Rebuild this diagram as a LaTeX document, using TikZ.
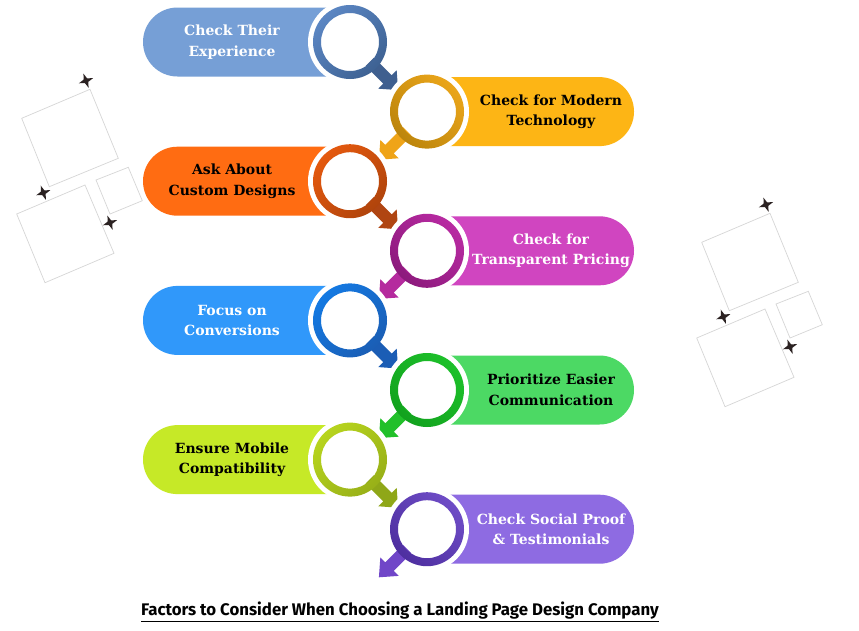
\documentclass[tikz,border=0pt]{standalone}
\usepackage{fontspec}
\usetikzlibrary{shapes.misc}
\newfontfamily\pillfont{DejaVu Serif}
\newfontfamily\titlefont{Fira Sans}

\definecolor{p1}{HTML}{769FD6}\definecolor{r1a}{HTML}{5B86C3}\definecolor{r1b}{HTML}{3E6293}\definecolor{a1}{HTML}{3F5F8F}
\definecolor{p2}{HTML}{FDB515}\definecolor{r2a}{HTML}{EAA51A}\definecolor{r2b}{HTML}{BC850C}\definecolor{a2}{HTML}{EFA418}
\definecolor{p3}{HTML}{FF6C12}\definecolor{r3a}{HTML}{E4590E}\definecolor{r3b}{HTML}{B0440C}\definecolor{a3}{HTML}{B04512}
\definecolor{p4}{HTML}{D045C0}\definecolor{r4a}{HTML}{B82AA2}\definecolor{r4b}{HTML}{8C1A7C}\definecolor{a4}{HTML}{B52A9E}
\definecolor{p5}{HTML}{3098FA}\definecolor{r5a}{HTML}{1479E2}\definecolor{r5b}{HTML}{1A5EB5}\definecolor{a5}{HTML}{1B5DB5}
\definecolor{p6}{HTML}{4CD964}\definecolor{r6a}{HTML}{1DC02A}\definecolor{r6b}{HTML}{12A21E}\definecolor{a6}{HTML}{22C02A}
\definecolor{p7}{HTML}{C6E927}\definecolor{r7a}{HTML}{B7D41E}\definecolor{r7b}{HTML}{98B018}\definecolor{a7}{HTML}{8FA718}
\definecolor{p8}{HTML}{8E6BE2}\definecolor{r8a}{HTML}{6E4CC6}\definecolor{r8b}{HTML}{4E2FA0}\definecolor{a8}{HTML}{7046C8}
\definecolor{starcol}{HTML}{2B2222}
\definecolor{sqcol}{HTML}{D6D6D6}

\tikzset{
  pillbase/.style={rounded rectangle, minimum height=69, minimum width=207, inner sep=0, draw=none},
  pillL/.style={pillbase, rounded rectangle right arc=none},
  pillR/.style={pillbase, rounded rectangle left arc=none},
  pilltext/.style={font=\pillfont\bfseries\fontsize{14}{20.5}\selectfont, align=center, inner sep=0},
  sqline/.style={draw=sqcol, line width=0.7pt},
  sparkle/.pic={\fill[starcol] (0:7.5) -- (45:2.6) -- (90:7.5) -- (135:2.6) -- (180:7.5) -- (225:2.6) -- (270:7.5) -- (315:2.6) -- cycle;}
}

% #1 id, #2 y, #3 pill, #4 ring light, #5 ring dark, #6 arrow, #7 text colour, #8 text
\newcommand{\leftfactor}[8]{%
  \node[pillL, fill=#3] (pill#1) at (246.5,#2) {};
  \coordinate (ring#1) at (350,#2);
  \fill[white] (ring#1) circle[radius=42];
  \begin{scope}[shift={(ring#1)}, rotate=-45]
    \fill[#6] (28,-6) -- (53,-6) -- (53,-13) -- (68,0) -- (53,13) -- (53,6) -- (28,6) -- cycle;
  \end{scope}
  \shade[even odd rule, top color=#4, bottom color=#5, shading angle=45] (ring#1) circle[radius=37] (ring#1) circle[radius=29];
  \node[pilltext, text=#7] (txt#1) at (232,#2) {#8};
}
\newcommand{\rightfactor}[8]{%
  \node[pillR, fill=#3] (pill#1) at (530.5,#2) {};
  \coordinate (ring#1) at (427,#2);
  \fill[white] (ring#1) circle[radius=42];
  \begin{scope}[shift={(ring#1)}, rotate=-135]
    \fill[#6] (28,-6) -- (53,-6) -- (53,-13) -- (68,0) -- (53,13) -- (53,6) -- (28,6) -- cycle;
  \end{scope}
  \shade[even odd rule, top color=#5, bottom color=#4, shading angle=135] (ring#1) circle[radius=37] (ring#1) circle[radius=29];
  \node[pilltext, text=#7] (txt#1) at (551,#2) {#8};
}
\newcommand{\decocluster}{%
  \draw[sqline] (21.7,118.3) -- (90,89.3) -- (118.3,158.3) -- (49.3,186.7) -- cycle;
  \draw[sqline] (96,180) -- (128.3,167.3) -- (142.3,200.7) -- (110,214) -- cycle;
  \draw[sqline] (16.7,214) -- (85,185) -- (114,253.3) -- (45,282.7) -- cycle;
  \pic[rotate=20] at (86,80.7) {sparkle};
  \pic[rotate=20] at (43.3,192.7) {sparkle};
  \pic[rotate=20] at (110,222.7) {sparkle};
}

\begin{document}
\begin{tikzpicture}[x=1pt,y=-1pt]
\useasboundingbox (0,0) rectangle (859,630);
\fill[white] (0,0) rectangle (859,630);

\begin{scope}\decocluster\end{scope}
\begin{scope}[shift={(680,124)}]\decocluster\end{scope}

\leftfactor{1}{42}{p1}{r1a}{r1b}{a1}{white}{Check Their\\Experience}
\rightfactor{2}{111.6}{p2}{r2a}{r2b}{a2}{black}{Check for Modern\\Technology}
\leftfactor{3}{181.2}{p3}{r3a}{r3b}{a3}{black}{Ask About\\Custom Designs}
\rightfactor{4}{250.8}{p4}{r4a}{r4b}{a4}{white}{Check for\\Transparent Pricing}
\leftfactor{5}{320.4}{p5}{r5a}{r5b}{a5}{white}{Focus on\\Conversions}
\rightfactor{6}{390}{p6}{r6a}{r6b}{a6}{black}{Prioritize Easier\\Communication}
\leftfactor{7}{459.6}{p7}{r7a}{r7b}{a7}{black}{Ensure Mobile\\Compatibility}
\rightfactor{8}{529.2}{p8}{r8a}{r8b}{a8}{white}{Check Social Proof\\\& Testimonials}

\node[font=\titlefont\bfseries\fontsize{16.8}{19}\selectfont, inner sep=0] (title) at (400,612) {\underline{Factors to Consider When Choosing a Landing Page Design Company}};
\end{tikzpicture}
\end{document}
